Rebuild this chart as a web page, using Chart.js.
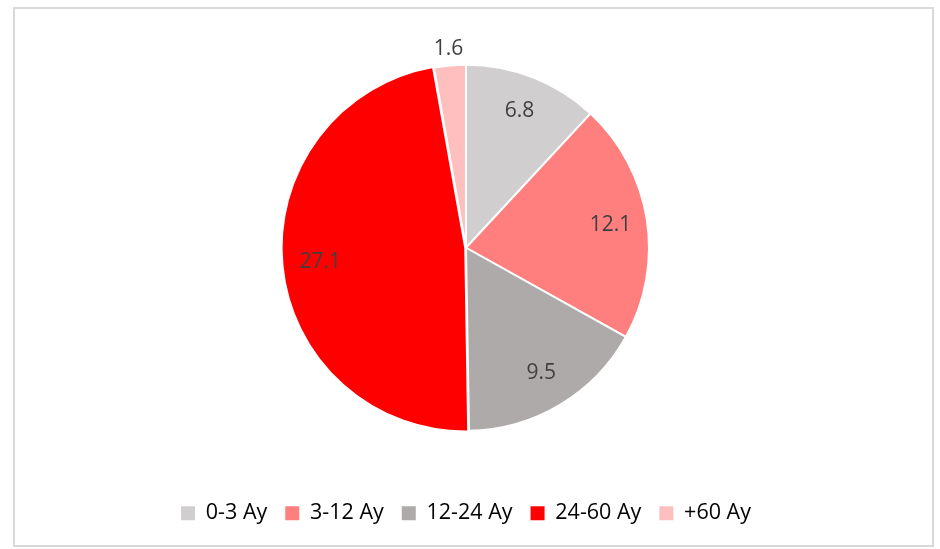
<!DOCTYPE html>
<html>
<head>
<meta charset="utf-8">
<script src="https://cdn.jsdelivr.net/npm/chart.js@4"></script>
<style>
    html, body { margin: 0; padding: 0; background: #fff; }
    #wrap { position: relative; width: 940px; height: 549px; }
    #frame {
        position: absolute; left: 13px; top: 7px; width: 917px; height: 536px;
        border: 2px solid #d9d9d9;
    }
    canvas { position: absolute; left: 0; top: 0; }
</style>
</head>
<body>
<div id="wrap">
    <div id="frame"></div>
    <canvas id="myChart" width="940" height="549"></canvas>
</div>
<script>
// Данные диаграммы
const categories = ['0-3 Ay', '3-12 Ay', '12-24 Ay', '24-60 Ay', '+60 Ay'];
const values = [6.8, 12.1, 9.5, 27.1, 1.6];
const colors = ['#d0cece', '#ff7f7f', '#aeaaaa', '#ff0000', '#ffbfbf'];
const explode = [0, 0, 0, 3, 0];

// Подписи значений на секторах
const sliceLabels = {
    id: 'sliceLabels',
    afterDatasetsDraw(chart) {
        const ctx = chart.ctx;
        const meta = chart.getDatasetMeta(0);
        const total = values.reduce((a, b) => a + b, 0);
        ctx.save();
        ctx.font = '21px "Open Sans"';
        ctx.fillStyle = '#404040';
        ctx.textAlign = 'center';
        ctx.textBaseline = 'middle';
        meta.data.forEach((arc, i) => {
            const p = arc.getProps(['x', 'y', 'startAngle', 'endAngle', 'outerRadius'], true);
            const mid = (p.startAngle + p.endAngle) / 2;
            const r = values[i] / total < 0.05 ? p.outerRadius + 17 : p.outerRadius * 0.8;
            ctx.fillText(String(values[i]), p.x + Math.cos(mid) * r, p.y + Math.sin(mid) * r);
        });
        ctx.restore();
    }
};

function renderChart() {
    const ctx = document.getElementById('myChart').getContext('2d');
    new Chart(ctx, {
        type: 'pie',
        data: {
            labels: categories,
            datasets: [{
                data: values,
                backgroundColor: colors,
                borderColor: '#ffffff',
                borderWidth: 2,
                offset: explode,
            }]
        },
        options: {
            responsive: false,
            animation: false,
            radius: 183,
            layout: { padding: { top: 11, bottom: 15, left: 0, right: 8 } },
            plugins: {
                tooltip: { enabled: false },
                legend: {
                    position: 'bottom',
                    labels: {
                        boxWidth: 14,
                        boxHeight: 14,
                        padding: 18,
                        color: '#595959',
                        font: { family: '"Open Sans"', size: 21.5 },
                        generateLabels: () => categories.map((c, i) => ({
                            text: c,
                            fillStyle: colors[i],
                            strokeStyle: colors[i],
                            lineWidth: 0,
                            hidden: false,
                            index: i,
                        })),
                    }
                }
            }
        },
        plugins: [sliceLabels]
    });
}

document.addEventListener('DOMContentLoaded', () => {
    renderChart();
});
</script>
</body>
</html>
